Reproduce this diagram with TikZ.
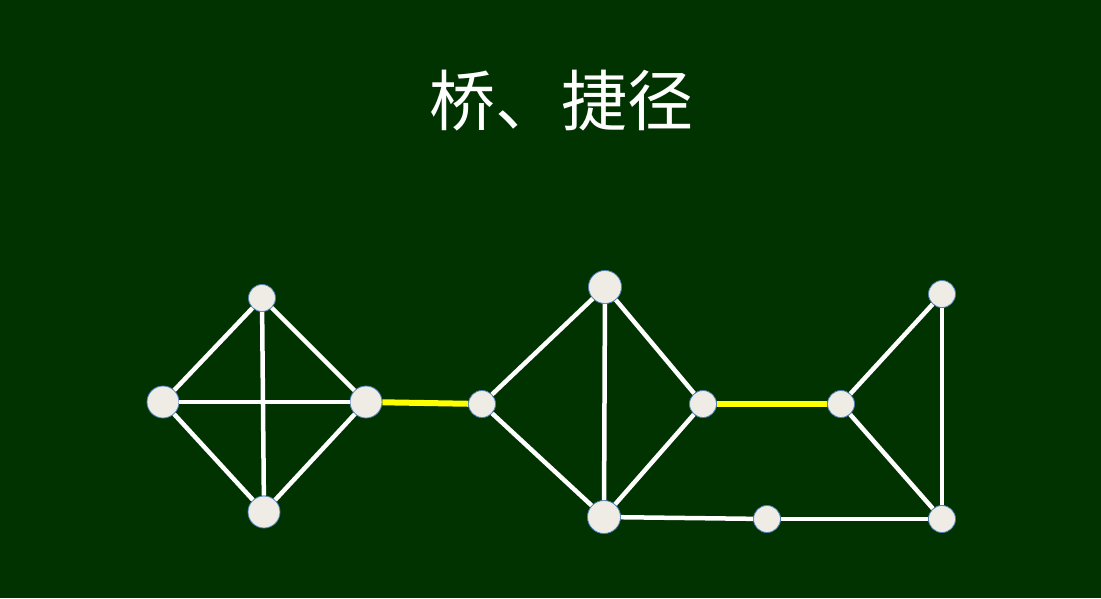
\documentclass[tikz,border=0pt]{standalone}
\usepackage{fontspec}
\newfontfamily\cjk{Noto Sans CJK SC}
\definecolor{bg}{HTML}{003300}
\definecolor{nodefill}{HTML}{EEECE4}
\definecolor{nodeline}{HTML}{4F81BD}
\definecolor{bridge}{HTML}{FFFF00}
\begin{document}
\begin{tikzpicture}[x=1pt,y=-1pt,
  vtx/.style={circle,fill=nodefill,draw=nodeline,line width=0.8pt,inner sep=0pt,minimum size=#1},
  vtx/.default=26pt,
  edge/.style={white,line width=4.5pt},
  bridgeedge/.style={bridge,line width=6pt}]
\fill[bg] (0,0) rectangle (1101,598);
\useasboundingbox (0,0) rectangle (1101,598);
\node[text=white,font=\cjk\fontsize{66}{68}\selectfont] (title) at (561,101) {桥、捷径};
% left component
\node[vtx=27pt] (a) at (262,298) {};
\node[vtx=32pt] (b) at (163,402) {};
\node[vtx=32pt] (c) at (366,402) {};
\node[vtx=32pt] (d) at (264,512) {};
% middle
\node[vtx=27pt] (e) at (482,404) {};
\node[vtx=33pt] (f) at (605,287) {};
\node[vtx=27pt] (g) at (703,404) {};
\node[vtx=33pt] (h) at (604,517) {};
% right
\node[vtx=27pt] (i) at (841,404) {};
\node[vtx=27pt] (j) at (942,294) {};
\node[vtx=27pt] (k) at (942,519) {};
\node[vtx=27pt] (l) at (767,519) {};
\draw[edge] (a) -- (b);
\draw[edge] (a) -- (c);
\draw[edge] (a) -- (d);
\draw[edge] (b) -- (c);
\draw[edge] (b) -- (d);
\draw[edge] (c) -- (d);
\draw[bridgeedge] (c) -- (e);
\draw[edge] (e) -- (f);
\draw[edge] (e) -- (h);
\draw[edge] (f) -- (h);
\draw[edge] (f) -- (g);
\draw[edge] (g) -- (h);
\draw[bridgeedge] (g) -- (i);
\draw[edge] (h) -- (l);
\draw[edge] (l) -- (k);
\draw[edge] (i) -- (j);
\draw[edge] (i) -- (k);
\draw[edge] (j) -- (k);
\end{tikzpicture}
\end{document}
